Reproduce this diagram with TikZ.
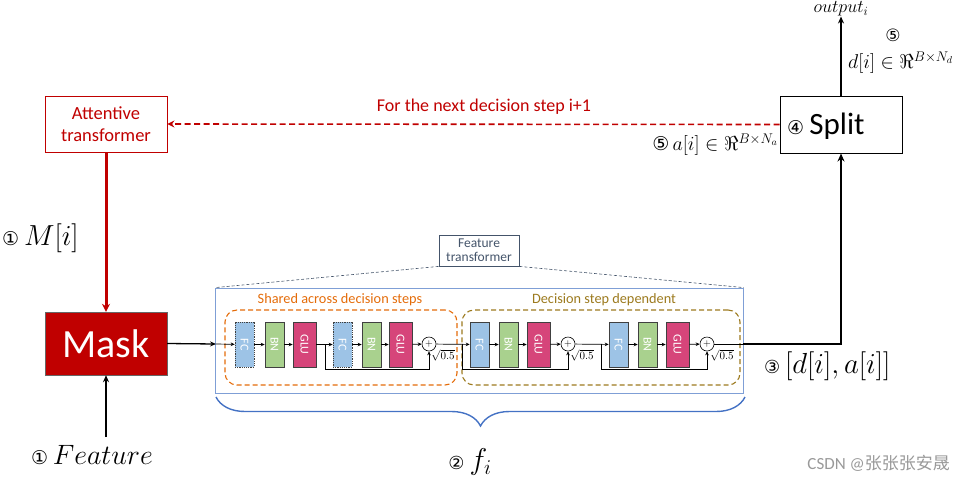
\RequirePackage{fix-cm}
\documentclass[tikz,border=0pt]{standalone}
\usepackage{fontspec}
\setmainfont{Carlito}
\newfontfamily\sym{DejaVu Sans}
\newfontfamily\cjk{Noto Sans CJK SC}
\usetikzlibrary{arrows.meta,decorations.pathreplacing,calc}
\definecolor{dred}{HTML}{C00000}
\definecolor{ftblue}{HTML}{7F9FD6}
\definecolor{ftdark}{HTML}{44546A}
\definecolor{brblue}{HTML}{4472C4}
\definecolor{shorange}{HTML}{E46C0A}
\definecolor{olive}{HTML}{9C7A1E}
\definecolor{fcblue}{HTML}{9DC3E6}
\definecolor{bngreen}{HTML}{A9D18E}
\definecolor{glupink}{HTML}{D6457A}
\newcommand{\fs}[1]{\fontsize{#1}{#1}\selectfont}
\tikzset{
  blockbox/.style={minimum width=19, minimum height=45, inner sep=0, text=white, draw=black!75, line width=0.6, font=\fs{12}},
  fcbox/.style={blockbox, fill=fcblue},
  bnbox/.style={blockbox, fill=bngreen},
  glubox/.style={blockbox, fill=glupink, minimum width=23},
  plusnode/.style={circle, draw=black, line width=0.6, minimum size=14, inner sep=0, font=\fs{10}},
  sm/.style={-{Stealth[length=4pt,width=3.5pt]}, line width=0.7},
  bigarr/.style={-{Stealth[length=7pt,width=6pt]}, line width=1.4},
  sqrtlab/.style={font=\fs{11}, inner sep=0}
}
\begin{document}
\begin{tikzpicture}[x=1pt,y=-1pt]
\useasboundingbox (0,0) rectangle (965,480);

% Attentive transformer
\node[draw=dred, line width=0.8, text=dred, align=center, minimum width=122, minimum height=56, inner sep=0, font=\fontsize{18.5}{21.5}\selectfont] (att) at (106,124) {Attentive\\transformer};

% Mask
\node[fill=dred, draw=black!60, minimum width=122, minimum height=63, inner sep=0, text=white, font=\fs{40}] (mask) at (106,343.5) {Mask};

% M[i] connector
\draw[dred, line width=3, -{Stealth[length=8pt,width=8pt]}] (att.south) -- (mask.north);
\node[anchor=west, inner sep=0, font=\fs{29}] (mlab) at (2,238) {{\sym\fs{19}①}\,$M[i]$};

% Feature input
\coordinate (featc) at (106,437);
\draw[bigarr, line width=1.3] (featc) -- (mask.south);
\node[anchor=west, inner sep=0, font=\fs{28}] (featlab) at (31,455) {{\sym\fs{19}①}\,$Feature$};

% Split
\node[draw=black, line width=1, minimum width=122, minimum height=57, inner sep=0] (split) at (841,124.5) {};
\node[anchor=west, inner sep=0, font=\fs{31}] (splitlab) at (787,126) {{\sym\fs{19}④}\,Split};
\node[inner sep=0, font=\fs{18}] (out) at (841,9) {$output_i$};
\draw[bigarr, line width=2] (split.north) -- (out.south);
\node[inner sep=0, font=\fs{17}] (five1) at (893,35) {\sym ⑤};
\node[anchor=west, inner sep=0, font=\fs{20}] (dlab) at (848,63) {$d[i]\in\Re^{B\times N_d}$};
\node[anchor=east, inner sep=0, font=\fs{20}] (alab) at (778,145) {{\sym\fs{19}⑤}\,$a[i]\in\Re^{B\times N_a}$};

% dashed red feedback
\draw[dred, dashed, dash pattern=on 6pt off 3.5pt, line width=1.6, -{Stealth[length=7pt,width=7pt]}] (split.west) -- (att.east);
\node[text=dred, inner sep=0, font=\fs{18}] (next) at (484,107) {For the next decision step i+1};

% Feature transformer outer box
\node[draw=ftblue, line width=0.8, minimum width=528, minimum height=105, inner sep=0] (ft) at (479.5,340.5) {};
\node[draw=ftdark, line width=0.8, align=center, minimum width=80, minimum height=31, inner sep=0, text=ftdark, font=\fontsize{13.5}{14}\selectfont] (ftl) at (479,250.5) {Feature\\transformer};
\draw[ftdark, densely dashed, line width=0.6] (ftl.south west) -- (ft.north west);
\draw[ftdark, densely dashed, line width=0.6] (ftl.south east) -- (ft.north east);

% dashed groups
\node[draw=shorange, dashed, dash pattern=on 5pt off 3pt, line width=1.1, rounded corners=12, minimum width=232, minimum height=75, inner sep=0] (shared) at (341,347.5) {};
\node[text=shorange, inner sep=0, font=\fs{14.3}] (sharedlab) at (340,300) {Shared across decision steps};
\node[draw=olive, dashed, dash pattern=on 5pt off 3pt, line width=1.1, rounded corners=12, minimum width=278, minimum height=75, inner sep=0] (dep) at (601,347.5) {};
\node[text=olive, inner sep=0, font=\fs{14.3}] (deplab) at (604,300) {Decision step dependent};

% blocks
\node[fcbox, dashed, dash pattern=on 1.2pt off 1pt] (fc1) at (244.5,344.5) {\rotatebox{-90}{FC}};
\node[bnbox] (bn1) at (274.5,344.5) {\rotatebox{-90}{BN}};
\node[glubox] (glu1) at (304.5,344.5) {\rotatebox{-90}{GLU}};
\node[fcbox, dashed, dash pattern=on 1.2pt off 1pt] (fc2) at (342.5,344.5) {\rotatebox{-90}{FC}};
\node[bnbox] (bn2) at (371.5,344.5) {\rotatebox{-90}{BN}};
\node[glubox] (glu2) at (400.5,344.5) {\rotatebox{-90}{GLU}};
\node[plusnode] (p1) at (429,344) {$+$};
\node[sqrtlab] (q1) at (443,355) {$\sqrt{0.5}$};

\node[fcbox] (fc3) at (479.5,344.5) {\rotatebox{-90}{FC}};
\node[bnbox] (bn3) at (508.5,344.5) {\rotatebox{-90}{BN}};
\node[glubox] (glu3) at (538.5,344.5) {\rotatebox{-90}{GLU}};
\node[plusnode] (p2) at (568,344) {$+$};
\node[sqrtlab] (q2) at (582,355) {$\sqrt{0.5}$};

\node[fcbox] (fc4) at (618.5,344.5) {\rotatebox{-90}{FC}};
\node[bnbox] (bn4) at (647.5,344.5) {\rotatebox{-90}{BN}};
\node[glubox] (glu4) at (677.5,344.5) {\rotatebox{-90}{GLU}};
\node[plusnode] (p3) at (707,344) {$+$};
\node[sqrtlab] (q3) at (722,355) {$\sqrt{0.5}$};

% input into feature transformer
\coordinate (ftin) at (216,344);
\draw[-{Stealth[length=6pt,width=5pt]}, line width=1.3] (mask.east) -- (ftin);
\draw[sm] (ftin) -- (fc1);
\draw[sm] (fc1) -- (bn1);
\draw[sm] (bn1) -- (glu1);
\draw[sm] (glu1) -- (fc2);
\draw[sm] (fc2) -- (bn2);
\draw[sm] (bn2) -- (glu2);
\draw[sm] (glu2) -- (p1);
\draw[sm] (p1) -- (fc3);
\draw[sm] (fc3) -- (bn3);
\draw[sm] (bn3) -- (glu3);
\draw[sm] (glu3) -- (p2);
\draw[sm] (p2) -- (fc4);
\draw[sm] (fc4) -- (bn4);
\draw[sm] (bn4) -- (glu4);
\draw[sm] (glu4) -- (p3);

% skip connections
\coordinate (s1) at (325,344);
\coordinate (s2) at (462,344);
\coordinate (s3) at (601,344);
\draw[sm] (s1) -- ++(0,25) -| (p1.south);
\draw[sm] (s2) -- ++(0,25) -| (p2.south);
\draw[sm] (s3) -- ++(0,25) -| (p3.south);

% output to split
\coordinate (ftout) at (743,344);
\coordinate (corner) at (841,344);
\draw[line width=0.8] (p3.east) -- (ftout);
\draw[line width=2, -{Stealth[length=8pt,width=7pt]}] (ftout) -- (corner) -- (split.south);
\node[anchor=west, inner sep=0, font=\fs{29}] (dalab) at (764,366) {{\sym\fs{18}③}\,$[d[i],a[i]]$};

% brace
\coordinate (brl) at (216,397);
\coordinate (brr) at (745,397);
\draw[brblue, line width=1.4, decorate, decoration={brace, mirror, amplitude=29pt}] (brl) -- (brr);
\node[inner sep=0, font=\fs{30}] (flab) at (470,462) {{\sym\fs{18}②}\,$f_i$};

% watermark
\node[anchor=east, inner sep=0, text=black!40, font=\fs{17}] (wm) at (950,463) {CSDN @{\cjk 张张张安晟}};
\end{tikzpicture}
\end{document}
